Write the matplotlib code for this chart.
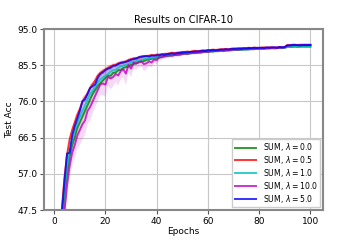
import numpy as np
import matplotlib
matplotlib.use("Agg")
from matplotlib import pyplot as plt

epochs = np.arange(1, 101)

acc_lam0 = [27, 35, 43.5, 51.5, 57, 61.5, 64.5, 66.5, 69, 70.5,
            72, 73.5, 75, 76.5, 78, 79, 80, 80.8, 81.5, 82.2,
            82.8, 82.7, 83.5, 83.6, 84.2, 84.3, 84.8, 85.0, 85.2, 85.6,
            85.8, 86.1, 86.3, 86.5, 86.6, 86.9, 87.0, 87.2, 87.3, 87.4,
            87.5, 87.7, 87.8, 87.9, 88.0, 88.1, 88.2, 88.2, 88.3, 88.4,
            88.5, 88.5, 88.6, 88.7, 88.7, 88.8, 88.8, 88.9, 89.0, 89.0,
            89.1, 89.1, 89.2, 89.2, 89.3, 89.3, 89.3, 89.4, 89.4, 89.5,
            89.5, 89.5, 89.6, 89.6, 89.6, 89.7, 89.7, 89.7, 89.8, 89.8,
            89.8, 89.9, 89.9, 89.9, 90.0, 89.9, 90.0, 90.0, 90.0, 90.1,
            90.3, 90.3, 90.3, 90.4, 90.3, 90.4, 90.4, 90.4, 90.4, 90.4]

acc_lam05 = [31, 39, 48, 56, 62, 66, 68.5, 70.5, 72.5, 74,
             76, 77, 78, 79.5, 80.5, 81.5, 82.8, 83.5, 84, 84.4,
             84.8, 85.2, 85.5, 85.6, 86, 86.2, 86.3, 86.5, 86.9, 87.1,
             87.3, 87.4, 87.5, 87.6, 87.9, 87.9, 88.0, 88.2, 88.1, 88.3,
             88.3, 88.4, 88.5, 88.5, 88.6, 88.8, 88.7, 88.8, 88.9, 89.0,
             89.0, 89.1, 89.0, 89.2, 89.3, 89.2, 89.3, 89.4, 89.4, 89.5,
             89.5, 89.6, 89.5, 89.6, 89.7, 89.7, 89.8, 89.7, 89.8, 89.9,
             89.9, 89.9, 90.0, 89.9, 90.0, 90.1, 90.0, 90.1, 90.1, 90.0,
             90.1, 90.2, 90.1, 90.2, 90.2, 90.1, 90.2, 90.3, 90.2, 90.3,
             90.8, 90.8, 90.9, 90.9, 90.8, 90.9, 90.9, 90.9, 90.9, 90.9]

acc_lam1 = [28, 36, 45, 53, 59, 63, 66, 68.5, 70.5, 72,
            73.5, 75, 76.5, 78, 78.8, 79.8, 81, 81.8, 82.3, 82.8,
            83.2, 83.8, 84.2, 84.3, 84.8, 85.2, 85.4, 85.6, 85.9, 86.2,
            86.4, 86.6, 86.8, 86.9, 87.1, 87.2, 87.3, 87.5, 87.4, 87.7,
            87.8, 87.9, 88.0, 88.0, 88.2, 88.3, 88.3, 88.4, 88.5, 88.6,
            88.6, 88.7, 88.7, 88.8, 88.9, 88.9, 89.0, 89.0, 89.1, 89.1,
            89.2, 89.2, 89.3, 89.3, 89.3, 89.4, 89.4, 89.5, 89.5, 89.5,
            89.6, 89.6, 89.6, 89.7, 89.7, 89.7, 89.8, 89.8, 89.8, 89.9,
            89.9, 89.9, 89.9, 90.0, 90.0, 90.0, 90.0, 90.1, 90.0, 90.1,
            90.3, 90.3, 90.4, 90.4, 90.4, 90.4, 90.4, 90.4, 90.4, 90.4]

acc_lam10 = [25, 33, 41, 47, 54, 59, 62.5, 64.5, 67, 68.5,
             70, 71, 73.5, 74.5, 76, 77.5, 79, 80.5, 80.7, 80.4,
             82.5, 82.0, 82.4, 83.2, 82.8, 84.0, 84.4, 83.3, 85.6, 84.6,
             86.2, 85.9, 86.3, 86.5, 85.8, 86.0, 86.5, 86.2, 87.0, 86.8,
             87.6, 87.6, 87.9, 88.0, 88.1, 88.0, 88.2, 88.3, 88.3, 88.5,
             88.6, 88.5, 88.7, 88.8, 88.8, 88.9, 88.9, 89.0, 89.1, 89.0,
             89.2, 89.2, 89.3, 89.3, 89.4, 89.3, 89.5, 89.5, 89.5, 89.6,
             89.6, 89.6, 89.7, 89.7, 89.8, 89.7, 89.8, 89.8, 89.9, 89.9,
             89.9, 89.9, 90.0, 90.0, 90.0, 90.1, 90.0, 90.1, 90.1, 90.2,
             90.7, 90.7, 90.8, 90.8, 90.8, 90.8, 90.8, 90.8, 90.8, 90.8]

acc_lam5 = [30, 38, 47, 55, 62.3, 62.5, 67, 69.5, 71.5, 73.5,
            76, 76.5, 78, 79.5, 80, 80.5, 82.2, 83.2, 83.6, 84.2,
            84.6, 84.8, 85.3, 85.4, 85.8, 86.1, 86.2, 86.4, 86.6, 86.9,
            87.1, 87.2, 87.6, 87.8, 87.8, 87.9, 87.8, 88.0, 88.0, 88.1,
            88.1, 88.3, 88.2, 88.4, 88.5, 88.6, 88.5, 88.7, 88.7, 88.8,
            88.9, 88.9, 89.0, 89.0, 89.1, 89.1, 89.2, 89.3, 89.2, 89.4,
            89.4, 89.5, 89.4, 89.5, 89.6, 89.6, 89.7, 89.6, 89.8, 89.8,
            89.8, 89.9, 89.8, 90.0, 89.9, 90.0, 90.0, 90.1, 90.0, 90.1,
            90.1, 90.0, 90.2, 90.1, 90.2, 90.2, 90.1, 90.3, 90.2, 90.3,
            90.7, 90.7, 90.8, 90.8, 90.8, 90.7, 90.8, 90.8, 90.8, 90.8]

# spread over runs (magenta is the noisy one, the rest share a small band)
std_lam10 = [3.0, 3.0, 3.0, 3.0, 3.0, 3.2, 3.2, 3.5, 3.5, 4.0,
             4.0, 3.8, 3.5, 3.5, 3.2, 3.0, 3.0, 2.8, 3.0, 3.2,
             2.5, 2.8, 2.5, 2.2, 2.6, 2.0, 2.2, 3.0, 1.8, 2.2,
             1.5, 1.6, 1.4, 1.3, 1.8, 1.6, 1.2, 1.3, 1.0, 1.1,
             0.8, 0.8, 0.7, 0.7, 0.7, 0.6, 0.6, 0.6, 0.6, 0.5,
             0.5, 0.5, 0.5, 0.5, 0.5, 0.5, 0.4, 0.4, 0.4, 0.4,
             0.4, 0.4, 0.4, 0.4, 0.4, 0.4, 0.4, 0.4, 0.3, 0.3,
             0.3, 0.3, 0.3, 0.3, 0.3, 0.3, 0.3, 0.3, 0.3, 0.3,
             0.3, 0.3, 0.3, 0.3, 0.3, 0.3, 0.3, 0.3, 0.3, 0.3,
             0.2, 0.2, 0.2, 0.2, 0.2, 0.2, 0.2, 0.2, 0.2, 0.2]
std_other = [1.5, 1.5, 1.5, 1.5, 1.5, 1.5, 1.5, 1.5, 1.5, 1.5,
             1.4, 1.4, 1.3, 1.3, 1.2, 1.2, 1.1, 1.0, 1.0, 0.9,
             0.9, 0.8, 0.8, 0.8, 0.7, 0.7, 0.7, 0.6, 0.6, 0.6,
             0.5, 0.5, 0.5, 0.5, 0.5, 0.5, 0.4, 0.4, 0.4, 0.4,
             0.4, 0.4, 0.4, 0.4, 0.4, 0.3, 0.3, 0.3, 0.3, 0.3,
             0.3, 0.3, 0.3, 0.3, 0.3, 0.3, 0.3, 0.3, 0.3, 0.3,
             0.3, 0.3, 0.3, 0.3, 0.3, 0.3, 0.3, 0.3, 0.2, 0.2,
             0.2, 0.2, 0.2, 0.2, 0.2, 0.2, 0.2, 0.2, 0.2, 0.2,
             0.2, 0.2, 0.2, 0.2, 0.2, 0.2, 0.2, 0.2, 0.2, 0.2,
             0.2, 0.2, 0.2, 0.2, 0.2, 0.2, 0.2, 0.2, 0.2, 0.2]

labels = [r'SUM, $\lambda = 0.0$', r'SUM, $\lambda = 0.5$',
          r'SUM, $\lambda = 1.0$', r'SUM, $\lambda = 10.0$',
          r'SUM, $\lambda = 5.0$']
series = [acc_lam0, acc_lam05, acc_lam1, acc_lam10, acc_lam5]
stds = [std_other, std_other, std_other, std_lam10, std_other]
colors = ['g', 'r', 'c', 'm', 'b']
band_alpha = [0.1, 0.1, 0.1, 0.15, 0.1]
yticks = [47.5, 57.0, 66.5, 76.0, 85.5, 95.0]

fig = plt.figure(figsize=(3.6, 2.4), dpi=100)
ax = fig.add_axes([0.1225, 0.125, 0.775, 0.754])

for y, s, c, a, lab in zip(series, stds, colors, band_alpha, labels):
    y = np.array(y)
    s = np.array(s)
    ax.plot(epochs, y, color=c, lw=1.4, alpha=0.8, label=lab)
    ax.fill_between(epochs, y - s, y + s, color=c, alpha=a, lw=0)

ax.set_ylim(47.5, 95.0)
ax.set_yticks(yticks)
ax.set_yticklabels(['%.1f' % t for t in yticks])
ax.set_xticks([0, 20, 40, 60, 80, 100])
ax.grid(True, color='#c8c8c8', lw=0.8)
ax.set_axisbelow(True)
for sp in ax.spines.values():
    sp.set_color('#888888')
    sp.set_linewidth(1.5)
ax.tick_params(labelsize=6.5, length=3, width=0.8, color='#555555', pad=2)

ax.set_xlabel('Epochs', fontsize=6.5, labelpad=1)
ax.set_ylabel('Test Acc', fontsize=6.5, labelpad=2)
ax.set_title('Results on CIFAR-10', fontsize=7.2, pad=4)
ax.legend(loc='lower right', fontsize=5.6, handlelength=2.7, labelspacing=0.1,
          borderpad=0.3, handletextpad=0.9, borderaxespad=0.4, framealpha=1.0,
          edgecolor='#cccccc', fancybox=False)

fig.savefig('out.png', dpi=100)
